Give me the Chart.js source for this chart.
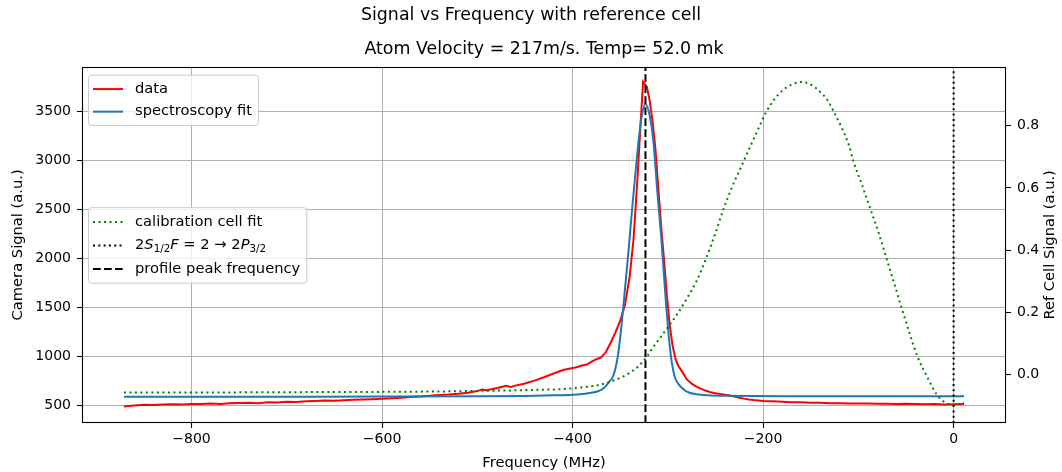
<!DOCTYPE html>
<html>
<head>
<meta charset="utf-8">
<script src="https://cdn.jsdelivr.net/npm/chart.js@4.4.0/dist/chart.umd.min.js"></script>
<style>
  html, body { margin: 0; padding: 0; background: #fff; }
</style>
</head>
<body>
<canvas id="signalChart" width="1062" height="472"></canvas>
<script>
// measured camera signal (red)
const dataFreq = [-871,-860,-850,-840,-830,-820,-810,-800,-790,-780,-770,-760,-750,-740,-730,-720,-710,-700,-690,-680,
  -670,-660,-650,-640,-630,-620,-610,-600,-590,-580,-570,-560,-550,-540,-530,-520,-510,-500,-495,-490,
  -480,-470,-465,-460,-450,-440,-430,-420,-410,-400,-395,-390,-385,-380,-375,-370,-365,-360,-355,-350,
  -345,-340,-336,-332,-328,-326,-324,-322,-319,-316,-313,-310,-307,-304,-301,-298,-295,-292,-289,-285,
  -280,-275,-270,-265,-260,-255,-250,-245,-240,-235,-230,-225,-220,-215,-210,-200,-190,-180,-170,-160,
  -150,-140,-130,-120,-110,-100,-90,-80,-70,-60,-50,-40,-30,-20,-10,0,11];
const dataSignal = [488,500,506,504,509,512,508,515,514,518,515,521,524,527,523,531,529,538,535,541,
  544,549,547,553,557,559,563,568,573,577,586,591,598,607,611,619,630,646,662,654,
  676,700,687,702,724,753,788,826,862,881,893,907,917,946,972,990,1045,1140,1245,1365,
  1525,1820,2200,2800,3480,3806,3780,3755,3610,3400,3120,2720,2330,1990,1620,1320,1110,975,905,845,
  765,722,692,668,650,634,624,616,609,601,590,579,569,561,555,546,541,536,532,531,
  527,526,523,523,520,518,519,516,516,514,516,513,512,514,510,512,515];

// spectroscopy fit (blue)
const fitFreq = [-871,-800,-700,-600,-500,-450,-420,-400,-385,-375,-368,-362,-357,-352,-347,-342,-337,-332,-328,-323.5,
  -319,-315,-311,-307,-302,-297,-293,-289,-283,-278,-270,-258,-240,-210,-150,-100,-50,0,11];
const fitSignal = [588,588,589,590,593,597,603,609,622,640,670,735,810,1035,1480,2000,2560,3080,3420,3580,
  3460,3180,2680,2230,1550,1020,800,720,660,632,614,603,598,595,594,593,593,593,593];

// calibration cell fit (green, right axis)
const calFreq = [-871,-800,-700,-600,-550,-500,-460,-430,-410,-395,-380,-370,-360,-350,-340,-330,-322,-315,-307,-300,
  -290,-280,-270,-260,-250,-242,-233,-223,-213,-205,-197,-188,-180,-170,-160,-150,-140,-132,-125,-118,
  -110,-105,-96,-87,-78,-70,-62,-55,-47,-38,-28,-18,-10,0,11];
const calSignal = [-0.057,-0.057,-0.056,-0.055,-0.054,-0.052,-0.050,-0.048,-0.046,-0.042,-0.037,-0.031,-0.022,-0.010,0.006,0.030,0.058,0.090,0.123,0.152,
  0.195,0.245,0.300,0.372,0.455,0.528,0.600,0.668,0.736,0.790,0.842,0.885,0.912,0.932,0.940,0.932,0.908,0.880,0.840,0.797,
  0.738,0.684,0.608,0.529,0.449,0.369,0.290,0.219,0.140,0.059,-0.005,-0.062,-0.087,-0.097,-0.090];

const peakFreq = -323.5;      // profile peak frequency
const transitionFreq = 0;     // 2S1/2 F=2 -> 2P3/2

const xTicks = [-800, -600, -400, -200, 0];
const yTicks = [500, 1000, 1500, 2000, 2500, 3000, 3500];
const y1Ticks = [0, 0.2, 0.4, 0.6, 0.8];

const xRange = [-915, 55];
const yRange = [320, 3960];
const y1Range = [-0.155, 0.989];

const FONT = 'DejaVu Sans';
const FS = 14.7;      // legend + axis labels
const TICK_FS = 14;
Chart.defaults.font.family = FONT;
Chart.defaults.font.size = FS;
Chart.defaults.color = '#000';

const pts = (xs, ys) => xs.map((x, i) => ({ x: x, y: ys[i] }));
const minus = v => String(v).replace('-', '\u2212');

// frame, two legend boxes and right axis title
const extras = {
  id: 'extras',
  afterDraw(chart) {
    const { ctx, chartArea: a } = chart;
    const ds = chart.data.datasets;
    const plainFont = FS + 'px "' + FONT + '"';
    ctx.save();
    ctx.strokeStyle = '#000';
    ctx.lineWidth = 1.1;
    ctx.strokeRect(Math.round(a.left) + 0.5, Math.round(a.top) + 0.5,
      Math.round(a.width) - 1, Math.round(a.height) - 1);

    const mathParts = [
      ['2', '', 0, 1], ['S', 'italic ', 0, 1], ['1/2', '', 3.5, 0.7], ['F', 'italic ', 0, 1],
      [' = 2 \u2192 2', '', 0, 1], ['P', 'italic ', 0, 1], ['3/2', '', 3.5, 0.7]
    ];
    function mathWidth() {
      let w = 0;
      mathParts.forEach(p => { ctx.font = p[1] + (FS * p[3]) + 'px "' + FONT + '"'; w += ctx.measureText(p[0]).width; });
      return w;
    }
    function drawMath(x, y) {
      let cx = x;
      mathParts.forEach(p => {
        ctx.font = p[1] + (FS * p[3]) + 'px "' + FONT + '"';
        ctx.fillText(p[0], cx, y + p[2]);
        cx += ctx.measureText(p[0]).width;
      });
    }
    function labelWidth(r) {
      if (r.math) return mathWidth();
      ctx.font = plainFont;
      return ctx.measureText(r.ds.label).width;
    }

    function legendBox(x, y, rows, rowH) {
      let w = 0;
      rows.forEach(r => { w = Math.max(w, labelWidth(r)); });
      const bw = 47 + w + 6, bh = rows.length * rowH + 5;
      ctx.beginPath();
      ctx.roundRect(x + 0.5, y + 0.5, bw, bh, 3);
      ctx.fillStyle = 'rgba(255,255,255,0.8)';
      ctx.fill();
      ctx.strokeStyle = '#cccccc';
      ctx.lineWidth = 1;
      ctx.stroke();
      rows.forEach((r, i) => {
        const cy = y + 3 + rowH / 2 + i * rowH;
        ctx.beginPath();
        ctx.setLineDash(r.ds.borderDash || []);
        ctx.strokeStyle = r.ds.borderColor;
        ctx.lineWidth = r.ds.borderWidth;
        ctx.moveTo(x + 5, cy);
        ctx.lineTo(x + 35, cy);
        ctx.stroke();
        ctx.setLineDash([]);
        ctx.fillStyle = '#000';
        ctx.textBaseline = 'middle';
        ctx.textAlign = 'left';
        if (r.math) drawMath(x + 47, cy);
        else { ctx.font = plainFont; ctx.fillText(r.ds.label, x + 47, cy); }
      });
    }

    legendBox(a.left + 6, a.top + 8, [{ ds: ds[4] }, { ds: ds[3] }], 22.6);
    const rows2 = [{ ds: ds[2] }, { ds: ds[1], math: true }, { ds: ds[0] }];
    const h2 = rows2.length * 23.5 + 5;
    legendBox(a.left + 6, (a.top + a.bottom) / 2 - h2 / 2, rows2, 23.5);

    // right axis title, reading bottom to top
    ctx.save();
    ctx.translate(chart.width - 12, (a.top + a.bottom) / 2);
    ctx.rotate(-Math.PI / 2);
    ctx.font = plainFont;
    ctx.fillStyle = '#000';
    ctx.textAlign = 'center';
    ctx.textBaseline = 'middle';
    ctx.fillText('Ref Cell Signal (a.u.)', 0, 0);
    ctx.restore();
    ctx.restore();
  }
};

new Chart(document.getElementById('signalChart'), {
  type: 'line',
  data: {
    datasets: [
      {
        label: 'profile peak frequency',
        data: [{ x: peakFreq, y: y1Range[0] }, { x: peakFreq, y: y1Range[1] }],
        yAxisID: 'y1', borderColor: '#000', borderWidth: 2, borderDash: [7.7, 3.3], order: 1
      },
      {
        label: '2S1/2 F=2 \u2192 2P3/2',
        data: [{ x: transitionFreq, y: y1Range[0] }, { x: transitionFreq, y: y1Range[1] }],
        yAxisID: 'y1', borderColor: '#000', borderWidth: 2, borderDash: [2, 3.3], order: 2
      },
      {
        label: 'calibration cell fit',
        data: pts(calFreq, calSignal),
        yAxisID: 'y1', borderColor: 'green', borderWidth: 2, borderDash: [2, 3.5],
        cubicInterpolationMode: 'monotone', order: 3
      },
      {
        label: 'spectroscopy fit',
        data: pts(fitFreq, fitSignal),
        yAxisID: 'y', borderColor: '#1f77b4', borderWidth: 2,
        cubicInterpolationMode: 'monotone', order: 4
      },
      {
        label: 'data',
        data: pts(dataFreq, dataSignal),
        yAxisID: 'y', borderColor: 'red', borderWidth: 2, tension: 0, order: 5
      }
    ]
  },
  options: {
    responsive: false,
    animation: false,
    layout: { padding: 0 },
    elements: { point: { radius: 0 } },
    plugins: {
      legend: { display: false },
      tooltip: { enabled: false },
      title: {
        display: true,
        text: 'Signal vs Frequency with reference cell',
        font: { size: 17.4, weight: 'normal', lineHeight: 1.2 },
        color: '#000',
        padding: { top: 5, bottom: 12 }
      },
      subtitle: {
        display: true,
        fullSize: false,
        text: 'Atom Velocity = 217m/s. Temp= 52.0 mk',
        font: { size: 17.4, weight: 'normal', lineHeight: 1.2 },
        color: '#000',
        padding: { top: 1, bottom: 7 }
      }
    },
    scales: {
      x: {
        type: 'linear',
        min: xRange[0], max: xRange[1],
        afterBuildTicks: s => { s.ticks = xTicks.map(v => ({ value: v })); },
        afterFit: s => { s.height = 49; },
        ticks: { padding: 3, font: { size: TICK_FS }, callback: v => minus(v), maxRotation: 0 },
        grid: { color: '#b0b0b0', lineWidth: 1, tickLength: 5, tickColor: '#000', tickWidth: 1.1 },
        border: { display: false },
        title: { display: true, text: 'Frequency (MHz)', padding: { top: 3, bottom: 0 } }
      },
      y: {
        position: 'left',
        min: yRange[0], max: yRange[1],
        afterBuildTicks: s => { s.ticks = yTicks.map(v => ({ value: v })); },
        afterFit: s => { s.width = 82; },
        ticks: { padding: 6, font: { size: TICK_FS }, callback: v => String(v) },
        grid: { color: '#b0b0b0', lineWidth: 1, tickLength: 5, tickColor: '#000', tickWidth: 1.1 },
        border: { display: false },
        title: { display: true, text: 'Camera Signal (a.u.)', padding: { top: 9, bottom: 0 } }
      },
      y1: {
        position: 'right',
        min: y1Range[0], max: y1Range[1],
        afterBuildTicks: s => { s.ticks = y1Ticks.map(v => ({ value: v })); },
        afterFit: s => { s.width = 56; },
        ticks: { padding: 6, font: { size: TICK_FS }, callback: v => v.toFixed(1) },
        grid: { drawOnChartArea: false, tickLength: 5, tickColor: '#000', tickWidth: 1.1 },
        border: { display: false }
      }
    }
  },
  plugins: [extras]
});
</script>
</body>
</html>
